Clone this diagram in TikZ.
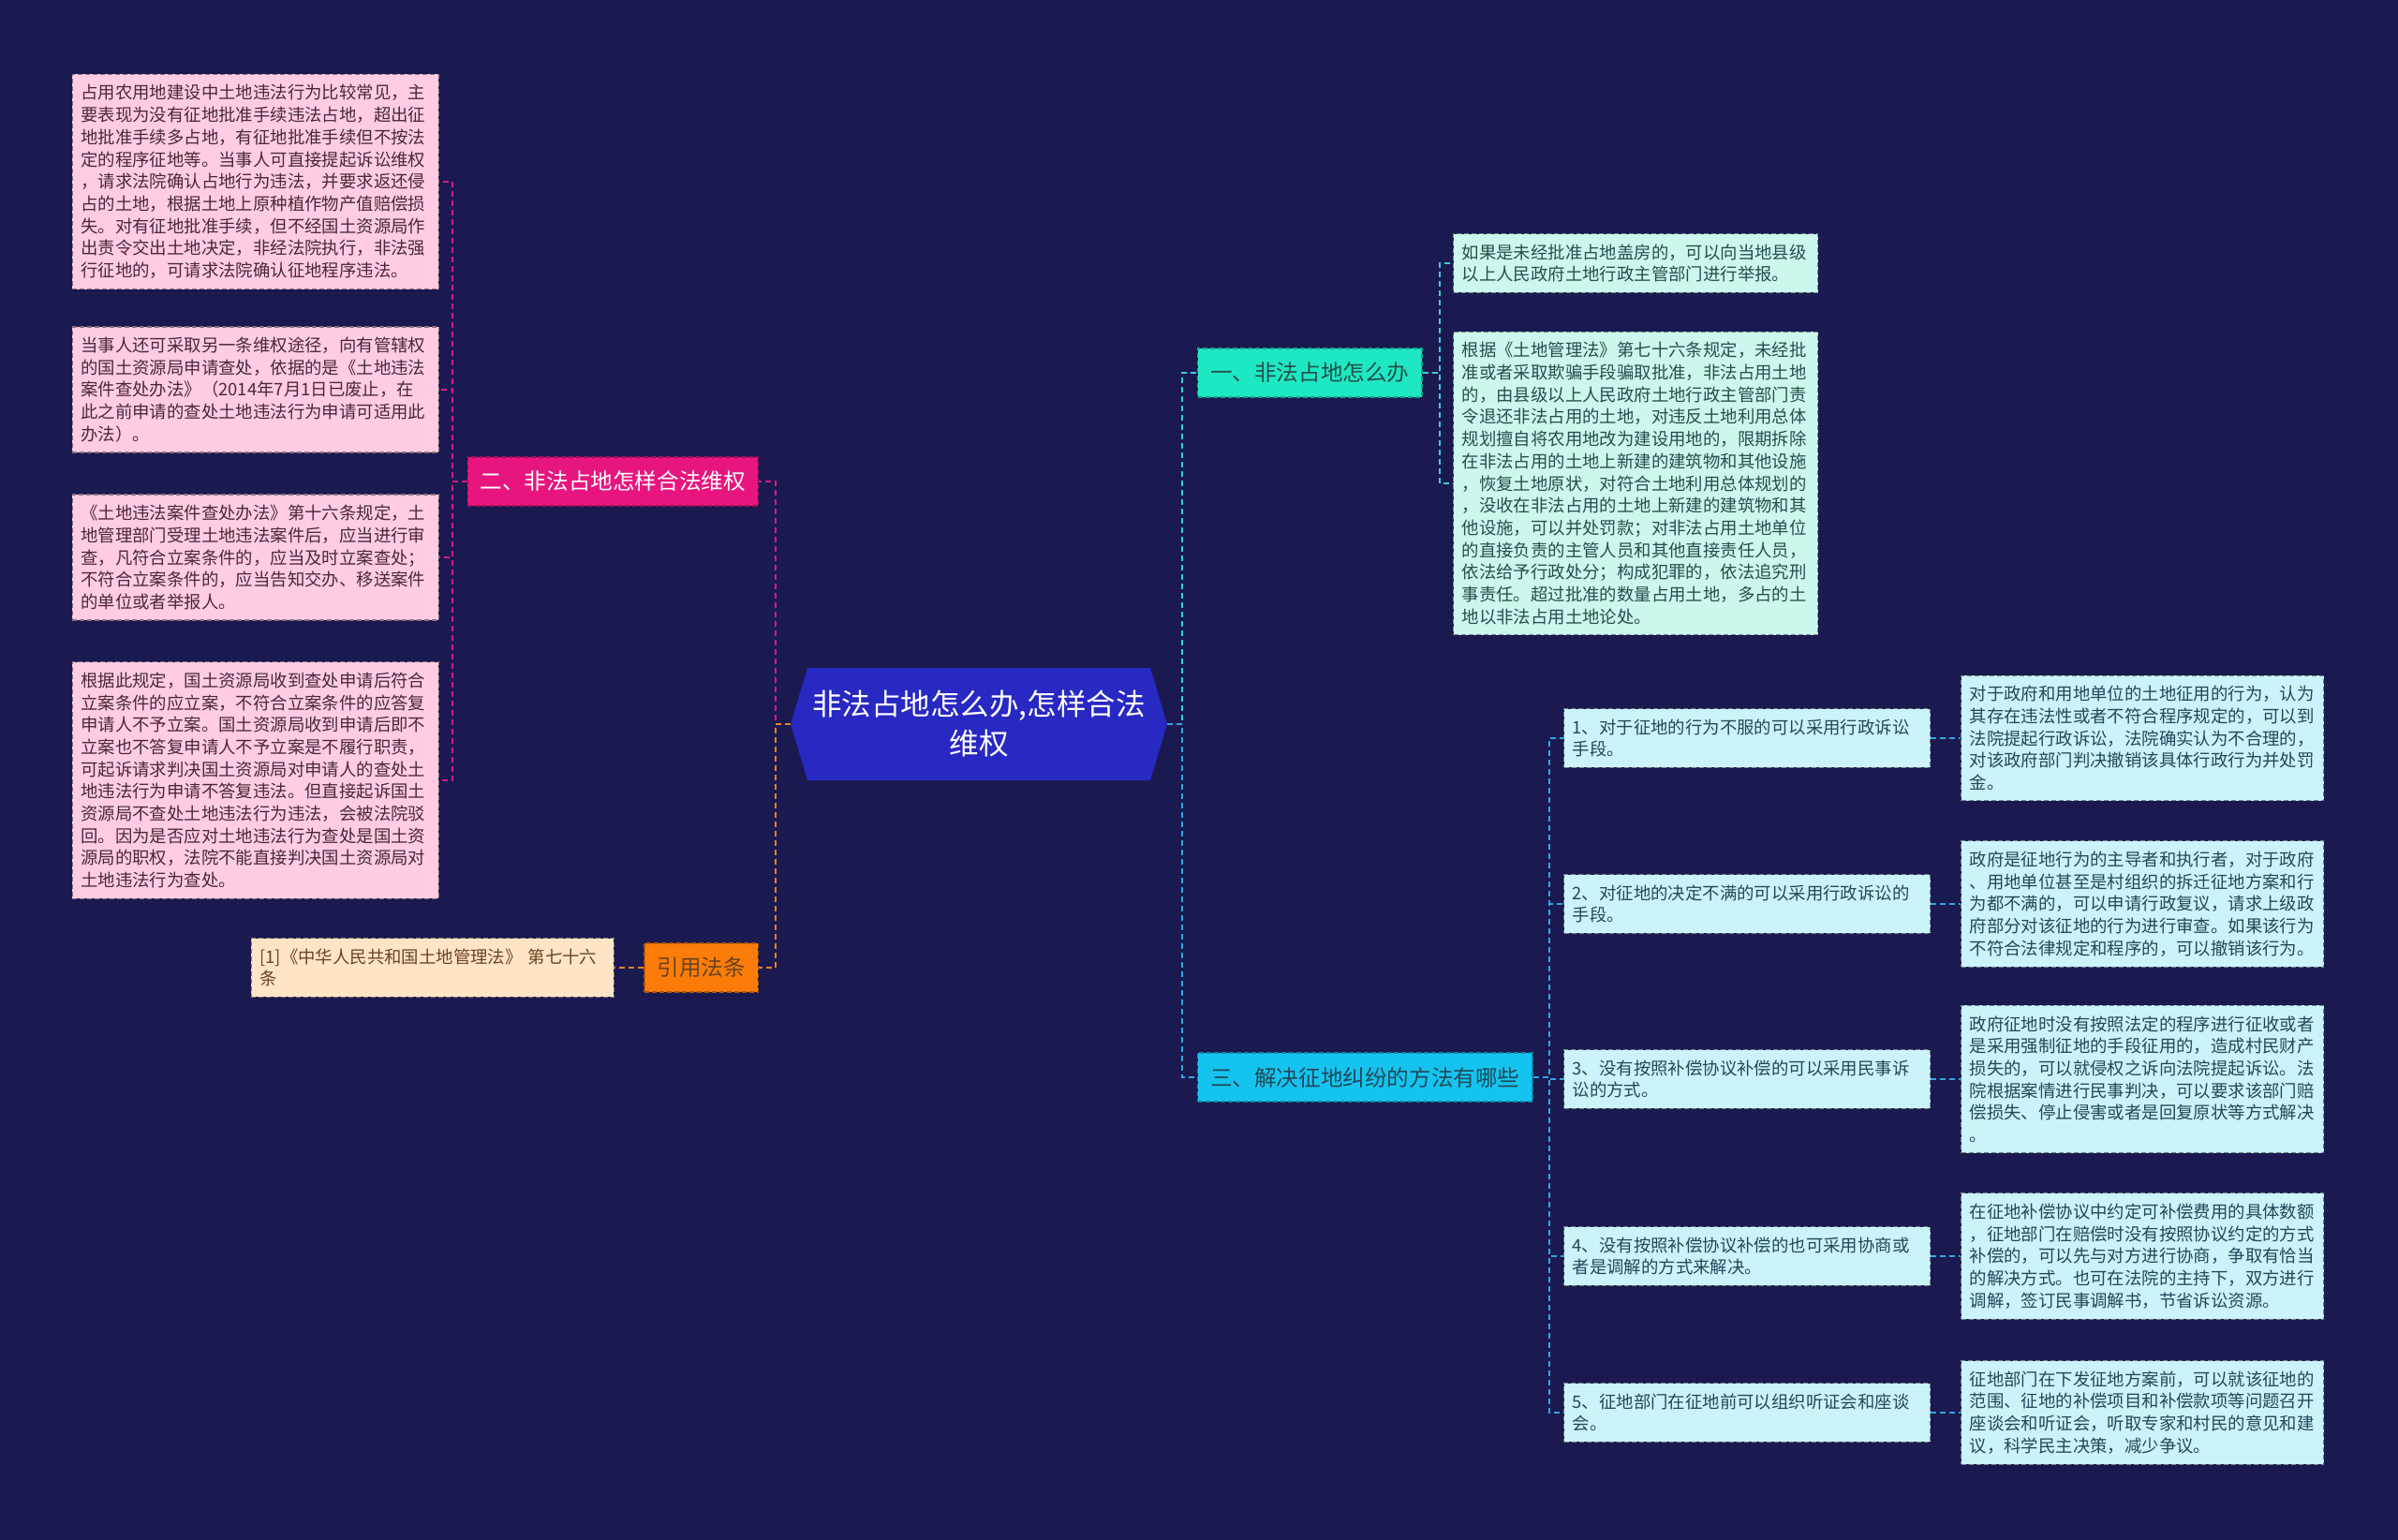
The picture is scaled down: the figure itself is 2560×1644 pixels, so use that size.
\documentclass[tikz,border=0pt]{standalone}
\usepackage{fontspec}
\setmainfont{Noto Sans CJK SC}
\definecolor{bg}{HTML}{1A1A50}
\definecolor{ctrblue}{HTML}{2828C2}
\definecolor{tealn}{HTML}{1EE8C2}
\definecolor{skyn}{HTML}{14C4EE}
\definecolor{magn}{HTML}{E8157E}
\definecolor{orgn}{HTML}{FB7C08}
\definecolor{pinkf}{HTML}{FFCCE4}
\definecolor{mintf}{HTML}{CCF7EE}
\definecolor{cyanf}{HTML}{CCF2FA}
\definecolor{peachf}{HTML}{FFE4C6}
\definecolor{lmag}{HTML}{D81B7E}
\definecolor{lorg}{HTML}{F08224}
\definecolor{lteal}{HTML}{36CFD8}
\definecolor{lsky}{HTML}{2FA8E0}
\definecolor{ptext}{HTML}{4A2838}
\definecolor{mtext}{HTML}{24504A}
\definecolor{ctext}{HTML}{22485A}
\definecolor{otext}{HTML}{6A4420}
\tikzset{
  x=1pt, y=-1pt,
  leaf/.style={draw=#1!55!black, fill=#1, dash pattern=on 5pt off 3pt, line width=1.3pt,
    inner xsep=9pt, inner ysep=11pt, text width=373pt, align=left,
    font=\fontsize{18.4}{23.7}\selectfont},
  branch/.style={fill=#1, draw=#1!70!black, dash pattern=on 5pt off 3pt, line width=1.3pt,
    minimum height=52pt, inner xsep=13.5pt, inner ysep=0pt,
    font=\fontsize{23.6}{28}\selectfont},
  conn/.style={draw=#1, line width=2pt, dash pattern=on 6pt off 4pt},
}
\begin{document}
\begin{tikzpicture}
\fill[bg] (0,0) rectangle (2560,1644);
\useasboundingbox (0,0) rectangle (2560,1644);

% center
\fill[ctrblue] (844,773) -- (862,713) -- (1228,713) -- (1246,773) -- (1228,833) -- (862,833) -- cycle;
\node[minimum width=402pt, minimum height=120pt, inner sep=0pt, align=center, text=white,
  font=\fontsize{31.5}{42}\selectfont] (ctr) at (1045,773) {非法占地怎么办,怎样合法\\维权};

% branches
\node[branch=tealn, text=mtext, anchor=west] (b1) at (1278,398) {一、非法占地怎么办};
\node[branch=skyn, text=ctext, anchor=west] (b3) at (1278,1150) {三、解决征地纠纷的方法有哪些};
\node[branch=magn, text=white, anchor=east] (b2) at (810,514) {二、非法占地怎样合法维权};
\node[branch=orgn, text=otext, anchor=east] (bref) at (810,1033) {引用法条};

% left leaves
\node[leaf=pinkf, text=ptext, anchor=east] (p1) at (469,194) {占用农用地建设中土地违法行为比较常见，主\\要表现为没有征地批准手续违法占地，超出征\\地批准手续多占地，有征地批准手续但不按法\\定的程序征地等。当事人可直接提起诉讼维权\\，请求法院确认占地行为违法，并要求返还侵\\占的土地，根据土地上原种植作物产值赔偿损\\失。对有征地批准手续，但不经国土资源局作\\出责令交出土地决定，非经法院执行，非法强\\行征地的，可请求法院确认征地程序违法。};
\node[leaf=pinkf, text=ptext, anchor=east] (p2) at (469,416) {当事人还可采取另一条维权途径，向有管辖权\\的国土资源局申请查处，依据的是《土地违法\\案件查处办法》（2014年7月1日已废止，在\\此之前申请的查处土地违法行为申请可适用此\\办法）。};
\node[leaf=pinkf, text=ptext, anchor=east] (p3) at (469,595) {《土地违法案件查处办法》第十六条规定，土\\地管理部门受理土地违法案件后，应当进行审\\查，凡符合立案条件的，应当及时立案查处；\\不符合立案条件的，应当告知交办、移送案件\\的单位或者举报人。};
\node[leaf=pinkf, text=ptext, anchor=east] (p4) at (469,833) {根据此规定，国土资源局收到查处申请后符合\\立案条件的应立案，不符合立案条件的应答复\\申请人不予立案。国土资源局收到申请后即不\\立案也不答复申请人不予立案是不履行职责，\\可起诉请求判决国土资源局对申请人的查处土\\地违法行为申请不答复违法。但直接起诉国土\\资源局不查处土地违法行为违法，会被法院驳\\回。因为是否应对土地违法行为查处是国土资\\源局的职权，法院不能直接判决国土资源局对\\土地违法行为查处。};
\node[leaf=peachf, text=otext, anchor=east, text width=369pt] (r1) at (656,1033) {[1]《中华人民共和国土地管理法》 第七十六\\条};

% right leaves of branch 1
\node[leaf=mintf, text=mtext, anchor=west, text width=371pt] (a1) at (1551,281) {如果是未经批准占地盖房的，可以向当地县级\\以上人民政府土地行政主管部门进行举报。};
\node[leaf=mintf, text=mtext, anchor=west, text width=371pt] (a2) at (1551,516) {根据《土地管理法》第七十六条规定，未经批\\准或者采取欺骗手段骗取批准，非法占用土地\\的，由县级以上人民政府土地行政主管部门责\\令退还非法占用的土地，对违反土地利用总体\\规划擅自将农用地改为建设用地的，限期拆除\\在非法占用的土地上新建的建筑物和其他设施\\，恢复土地原状，对符合土地利用总体规划的\\，没收在非法占用的土地上新建的建筑物和其\\他设施，可以并处罚款；对非法占用土地单位\\的直接负责的主管人员和其他直接责任人员，\\依法给予行政处分；构成犯罪的，依法追究刑\\事责任。超过批准的数量占用土地，多占的土\\地以非法占用土地论处。};

% branch 3 leaves
\node[leaf=cyanf, text=ctext, anchor=west] (q1) at (1669,788) {1、对于征地的行为不服的可以采用行政诉讼\\手段。};
\node[leaf=cyanf, text=ctext, anchor=west] (q2) at (1669,965) {2、对征地的决定不满的可以采用行政诉讼的\\手段。};
\node[leaf=cyanf, text=ctext, anchor=west] (q3) at (1669,1152) {3、没有按照补偿协议补偿的可以采用民事诉\\讼的方式。};
\node[leaf=cyanf, text=ctext, anchor=west] (q4) at (1669,1341) {4、没有按照补偿协议补偿的也可采用协商或\\者是调解的方式来解决。};
\node[leaf=cyanf, text=ctext, anchor=west] (q5) at (1669,1508) {5、征地部门在征地前可以组织听证会和座谈\\会。};

\node[leaf=cyanf, text=ctext, anchor=west, text width=369pt] (c1) at (2093,788) {对于政府和用地单位的土地征用的行为，认为\\其存在违法性或者不符合程序规定的，可以到\\法院提起行政诉讼，法院确实认为不合理的，\\对该政府部门判决撤销该具体行政行为并处罚\\金。};
\node[leaf=cyanf, text=ctext, anchor=west, text width=369pt] (c2) at (2093,965) {政府是征地行为的主导者和执行者，对于政府\\、用地单位甚至是村组织的拆迁征地方案和行\\为都不满的，可以申请行政复议，请求上级政\\府部分对该征地的行为进行审查。如果该行为\\不符合法律规定和程序的，可以撤销该行为。};
\node[leaf=cyanf, text=ctext, anchor=west, text width=369pt] (c3) at (2093,1152) {政府征地时没有按照法定的程序进行征收或者\\是采用强制征地的手段征用的，造成村民财产\\损失的，可以就侵权之诉向法院提起诉讼。法\\院根据案情进行民事判决，可以要求该部门赔\\偿损失、停止侵害或者是回复原状等方式解决\\。};
\node[leaf=cyanf, text=ctext, anchor=west, text width=369pt] (c4) at (2093,1341) {在征地补偿协议中约定可补偿费用的具体数额\\，征地部门在赔偿时没有按照协议约定的方式\\补偿的，可以先与对方进行协商，争取有恰当\\的解决方式。也可在法院的主持下，双方进行\\调解，签订民事调解书，节省诉讼资源。};
\node[leaf=cyanf, text=ctext, anchor=west, text width=369pt] (c5) at (2093,1508) {征地部门在下发征地方案前，可以就该征地的\\范围、征地的补偿项目和补偿款项等问题召开\\座谈会和听证会，听取专家和村民的意见和建\\议，科学民主决策，减少争议。};

% connectors
\draw[conn=lmag] (ctr.west) -- ++(-16,0) |- (b2.east);
\draw[conn=lorg] (ctr.west) -- ++(-16,0) |- (bref.east);
\draw[conn=lteal] (ctr.east) -- ++(16,0) |- (b1.west);
\draw[conn=lsky] (ctr.east) -- ++(16,0) |- (b3.west);
\foreach \p in {p1,p2,p3,p4} \draw[conn=lmag] (b2.west) -- ++(-16,0) |- (\p.east);
\draw[conn=lorg] (bref.west) -- (r1.east);
\foreach \a in {a1,a2} \draw[conn=lteal] (b1.east) -- ++(18,0) |- (\a.west);
\foreach \q in {q1,q2,q3,q4,q5} \draw[conn=lsky] (b3.east) -- ++(17,0) |- (\q.west);
\foreach \i in {1,...,5} \draw[conn=lsky] (q\i.east) -- (c\i.west);
\end{tikzpicture}
\end{document}
